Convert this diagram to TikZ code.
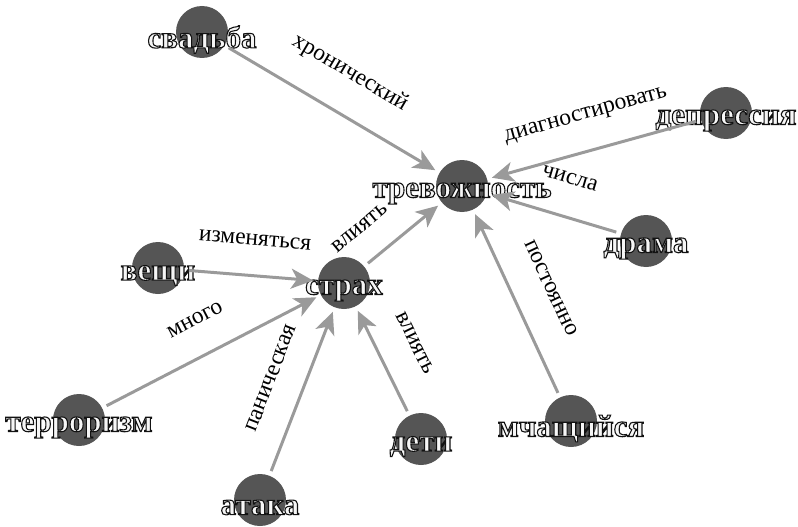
\documentclass[tikz,border=0pt]{standalone}
\usepackage{fontspec}
\setmainfont{Liberation Serif}
\newfontfamily\outfont[FakeBold=3.5]{Liberation Serif Bold}
\usetikzlibrary{arrows.meta}
\definecolor{vcol}{HTML}{555555}
\definecolor{ecol}{HTML}{9A9A9A}
\definecolor{fillc}{HTML}{F6F6F6}
\newcommand\outl[1]{\textcolor{fillc}{\special{pdf:code 0.07 0.07 0.07 RG}\outfont #1}}
\tikzset{
  vert/.style={circle, fill=vcol, minimum size=52pt, inner sep=0pt, outer sep=5pt},
  vlab/.style={anchor=base, yshift=-7.5pt, inner sep=0pt, font=\fontsize{31}{31}\selectfont},
  conn/.style={draw=ecol, line width=3pt, -{Stealth[length=22pt, width=20pt, inset=6pt]}},
  elab/.style={font=\fontsize{23.5}{23.5}\selectfont, text=black, inner sep=0pt, anchor=center}
}
\begin{document}
\begin{tikzpicture}[x=1pt, y=-1pt]
\useasboundingbox (0,0) rectangle (798,527);
% vertices
\node[vert, label={[vlab]center:\outl{свадьба}}] (svadba) at (202,32) {};
\node[vert, label={[vlab]center:\outl{тревожность}}] (trev) at (462,186) {};
\node[vert, label={[vlab]center:\outl{депрессия}}] (depr) at (726,113) {};
\node[vert, label={[vlab]center:\outl{драма}}] (drama) at (646,241) {};
\node[vert, label={[vlab]center:\outl{вещи}}] (veshchi) at (158,268) {};
\node[vert, label={[vlab]center:\outl{страх}}] (strakh) at (344,283) {};
\node[vert, label={[vlab]center:\outl{терроризм}}] (terror) at (79,420) {};
\node[vert, label={[vlab]center:\outl{атака}}] (ataka) at (260,500) {};
\node[vert, label={[vlab]center:\outl{дети}}] (deti) at (421,439) {};
\node[vert, label={[vlab]center:\outl{мчащийся}}] (mchash) at (571,421) {};
% connectors
\draw[conn] (svadba) -- (trev);
\draw[conn] (depr) -- (trev);
\draw[conn] (drama) -- (trev);
\draw[conn] (mchash) -- (trev);
\draw[conn] (strakh) -- (trev);
\draw[conn] (veshchi) -- (strakh);
\draw[conn] (terror) -- (strakh);
\draw[conn] (ataka) -- (strakh);
\draw[conn] (deti) -- (strakh);
% edge labels
\node[elab, rotate=-30.6] (l1) at (350,73) {хронический};
\node[elab, rotate=15.5] (l2) at (586,116) {диагностировать};
\node[elab, rotate=-16.6] (l3) at (570,178) {числа};
\node[elab, rotate=-65] (l4) at (551,288) {постоянно};
\node[elab, rotate=39.4] (l5) at (360,228) {влиять};
\node[elab, rotate=-4.6] (l6) at (255,240) {изменяться};
\node[elab, rotate=27.3] (l7) at (195,320) {много};
\node[elab, rotate=68.8] (l8) at (271,378) {паническая};
\node[elab, rotate=-64] (l9) at (415,343) {влиять};
\end{tikzpicture}
\end{document}
